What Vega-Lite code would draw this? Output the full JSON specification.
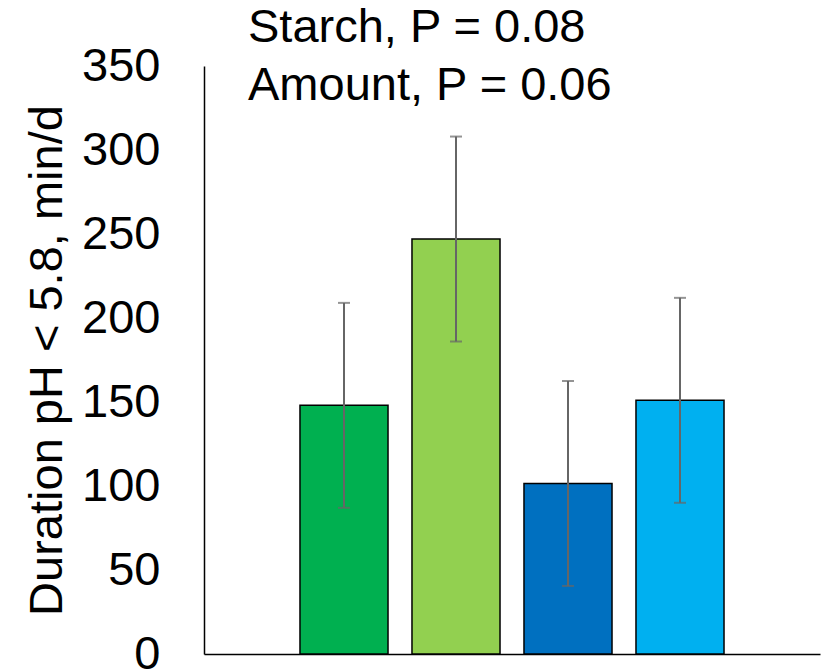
{
  "$schema": "https://vega.github.io/schema/vega-lite/v6.json",
  "width": 616,
  "height": 588,
  "autosize": {"type": "none"},
  "padding": {"left": 204, "top": 66, "right": 8, "bottom": 18},
  "background": "white",
  "title": {
    "text": ["Starch, P = 0.08", "Amount, P = 0.06"],
    "anchor": "start",
    "frame": "group",
    "dx": 44,
    "offset": -68,
    "font": "Liberation Sans",
    "fontSize": 47,
    "fontWeight": "normal",
    "color": "black",
    "lineHeight": 58
  },
  "data": {
    "values": [
      {"grp": "Group 1", "mean": 148, "lo": 87, "hi": 209},
      {"grp": "Group 2", "mean": 247, "lo": 186, "hi": 308},
      {"grp": "Group 3", "mean": 101.5, "lo": 40.5, "hi": 162.5},
      {"grp": "Group 4", "mean": 151, "lo": 90, "hi": 212}
    ]
  },
  "encoding": {
    "x": {
      "field": "grp",
      "type": "nominal",
      "sort": null,
      "scale": {"paddingInner": 0.214, "paddingOuter": 0.857},
      "axis": {"labels": false, "ticks": false, "title": null, "domainColor": "#000000", "domainWidth": 1.5}
    }
  },
  "layer": [
    {
      "mark": {"type": "bar", "stroke": "#000000", "strokeWidth": 1.5},
      "encoding": {
        "y": {
          "field": "mean",
          "type": "quantitative",
          "scale": {"domain": [0, 350], "nice": false},
          "axis": {
            "values": [0, 50, 100, 150, 200, 250, 300, 350],
            "grid": false,
            "ticks": false,
            "tickSize": 0,
            "domainColor": "#000000",
            "domainWidth": 1.5,
            "labelFont": "Liberation Sans",
            "labelFontSize": 47,
            "labelColor": "#000000",
            "labelPadding": 44,
            "title": "Duration pH < 5.8, min/d",
            "titleFont": "Liberation Sans",
            "titleFontSize": 47,
            "titleFontWeight": "normal",
            "titleColor": "#000000",
            "titlePadding": 10
          }
        },
        "color": {
          "field": "grp",
          "type": "nominal",
          "sort": null,
          "scale": {"range": ["#00B050", "#92D050", "#0070C0", "#00B0F0"]},
          "legend": null
        }
      }
    },
    {
      "mark": {"type": "rule", "color": "#666666", "strokeWidth": 2},
      "encoding": {
        "y": {"field": "lo", "type": "quantitative"},
        "y2": {"field": "hi"}
      }
    },
    {
      "mark": {"type": "tick", "color": "#666666", "size": 12, "thickness": 2},
      "encoding": {"y": {"field": "lo", "type": "quantitative"}}
    },
    {
      "mark": {"type": "tick", "color": "#666666", "size": 12, "thickness": 2},
      "encoding": {"y": {"field": "hi", "type": "quantitative"}}
    }
  ],
  "config": {"view": {"stroke": null}}
}
